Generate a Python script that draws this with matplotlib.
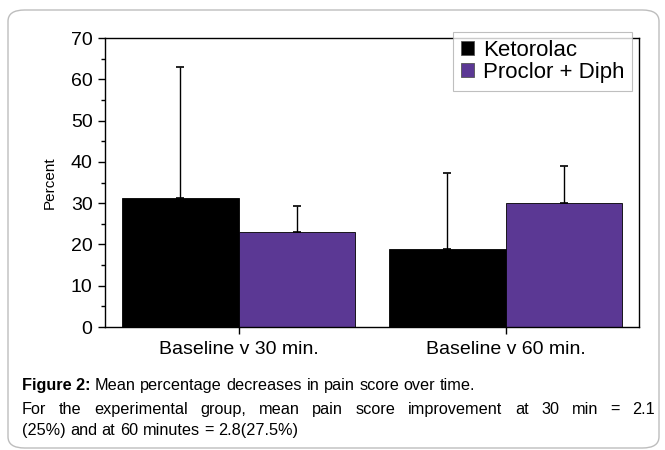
import matplotlib.pyplot as plt
from matplotlib.patches import FancyBboxPatch
import numpy as np

plt.rcParams['font.family'] = ['Liberation Sans', 'DejaVu Sans']

# data
categories = ['Baseline v 30 min.', 'Baseline v 60 min.']
series = ['Ketorolac', 'Proclor + Diph']
ketorolac = [31.3, 18.9]
ketorolac_err = [31.6, 18.5]
proclor = [23.0, 30.0]
proclor_err = [6.2, 9.0]
colors = ['#000000', '#5b3894']

fig = plt.figure(figsize=(6.65, 4.5), dpi=100)

# rounded frame round the whole figure
frame = FancyBboxPatch((8/665, 2/450), 651/665, 438/450,
                       boxstyle='round,pad=0,rounding_size=0.025',
                       transform=fig.transFigure, fill=False,
                       edgecolor='#bdbdbd', linewidth=1.0)
fig.patches.append(frame)

ax = fig.add_axes([105/665, 1 - 327/450, 534/665, 289/450])

x = np.arange(len(categories))
w = 0.436
ax.bar(x - w/2, ketorolac, w, color=colors[0], edgecolor='black', linewidth=0.6,
       label=series[0])
ax.bar(x + w/2, proclor, w, color=colors[1], edgecolor='black', linewidth=0.6,
       label=series[1])
ax.errorbar(x - w/2, ketorolac, yerr=[np.zeros(2), ketorolac_err], fmt='none',
            ecolor='black', elinewidth=1.0, capsize=3, capthick=1.2)
ax.errorbar(x + w/2, proclor, yerr=[np.zeros(2), proclor_err], fmt='none',
            ecolor='black', elinewidth=1.0, capsize=3, capthick=1.2)

ax.set_xlim(-0.5, 1.5)
ax.set_ylim(0, 70)
ax.set_yticks(np.arange(0, 71, 10))
ax.set_yticks(np.arange(0, 71, 5), minor=True)
ax.set_xticks(x)
ax.set_xticklabels(categories, fontsize=14)
ax.tick_params(axis='y', which='major', labelsize=14, length=5, width=1, pad=4)
ax.tick_params(axis='y', which='minor', length=3, width=1)
ax.tick_params(axis='x', length=5, width=1, pad=5)
ax.set_ylabel('Percent', fontsize=11, labelpad=10)
for s in ax.spines.values():
    s.set_linewidth(1.0)

leg = ax.legend(loc='upper right', bbox_to_anchor=(0.987, 1.021),
                fontsize=16, frameon=True, fancybox=False,
                handlelength=0.6, handleheight=0.6, handletextpad=0.4,
                borderpad=0.35, labelspacing=0.05, borderaxespad=0)
leg.get_frame().set_edgecolor('#b0b0b0')
leg.get_frame().set_linewidth(0.8)
for h in leg.legend_handles:
    h.set_edgecolor('#555555')

# caption below the chart, laid out word by word
cap_size = 11.7
left_px, right_px = 22, 655
renderer = fig.canvas.get_renderer()
probe1 = fig.text(0, 0, 'a a', fontsize=cap_size)
probe2 = fig.text(0, 0, 'aa', fontsize=cap_size)
space_px = probe1.get_window_extent(renderer).width - probe2.get_window_extent(renderer).width
probe1.remove()
probe2.remove()


def place_words(words, y_px, bold_first=False, justify=False):
    items = []
    for i, wd in enumerate(words):
        t = fig.text(0, 1 - y_px/450, wd, fontsize=cap_size, va='baseline', ha='left',
                     fontweight='bold' if (bold_first and i == 0) else 'normal')
        items.append(t)
    widths = [t.get_window_extent(renderer).width for t in items]
    gap = space_px
    if justify and len(words) > 1:
        gap = (right_px - left_px - sum(widths)) / (len(words) - 1)
    pos = left_px
    for t, wdt in zip(items, widths):
        t.set_x(pos / 665)
        pos += wdt + gap


place_words(['Figure 2:'] + 'Mean percentage decreases in pain score over time.'.split(),
            390, bold_first=True)
place_words('For the experimental group, mean pain score improvement at 30 min = 2.1'.split(),
            414, justify=True)
place_words('(25%) and at 60 minutes = 2.8(27.5%)'.split(), 435)

fig.savefig('out.png', dpi=100)
